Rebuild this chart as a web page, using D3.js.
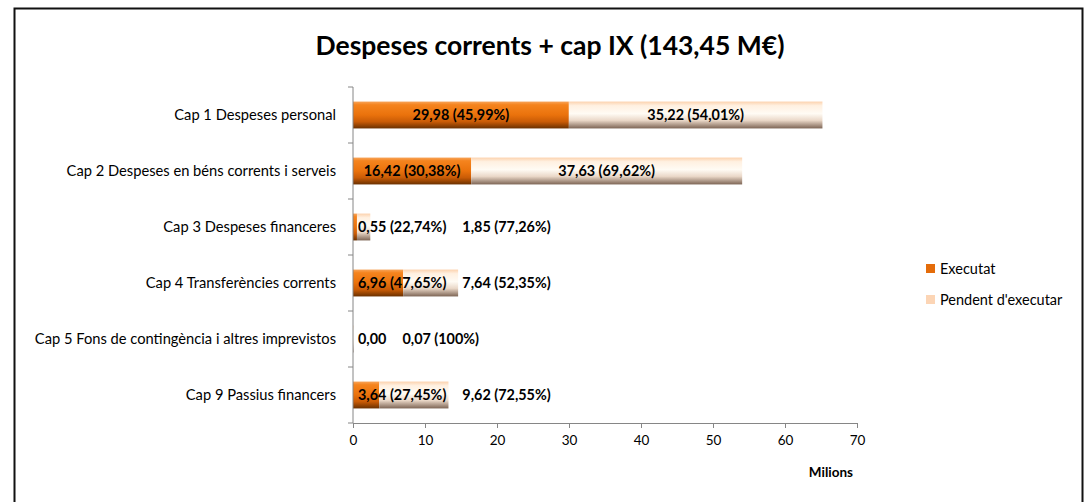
<!DOCTYPE html>
<html>
<head>
<meta charset="utf-8">
<script src="https://cdn.jsdelivr.net/npm/d3@7"></script>
<style>
  html, body { margin: 0; padding: 0; background: #fff; }
  svg { display: block; }
  text { font-family: Lato, "Open Sans", sans-serif; }
</style>
</head>
<body>
<svg id="chart" width="1086" height="502"></svg>
<script>
const categories = [
  "Cap 1 Despeses personal",
  "Cap 2 Despeses en béns corrents i serveis",
  "Cap 3 Despeses financeres",
  "Cap 4 Transferències corrents",
  "Cap 5 Fons de contingència i altres imprevistos",
  "Cap 9 Passius financers"
];
const executat = [29.98, 16.42, 0.55, 6.96, 0.00, 3.64];
const pendent = [35.22, 37.63, 1.85, 7.64, 0.07, 9.62];
const executatLabels = ["29,98 (45,99%)", "16,42 (30,38%)", "0,55 (22,74%)", "6,96 (47,65%)", "0,00", "3,64 (27,45%)"];
const pendentLabels = ["35,22 (54,01%)", "37,63 (69,62%)", "1,85 (77,26%)", "7,64 (52,35%)", "0,07 (100%)", "9,62 (72,55%)"];
const xTicks = [0, 10, 20, 30, 40, 50, 60, 70];
const seriesNames = ["Executat", "Pendent d'executar"];
const title = "Despeses corrents + cap IX (143,45 M€)";
const axisTitle = "Milions";

const svg = d3.select("#chart");

// outer frame
svg.append("rect")
  .attr("x", 14.5).attr("y", 8.5)
  .attr("width", 1068).attr("height", 520)
  .attr("fill", "#fff").attr("stroke", "#111").attr("stroke-width", 2);

// gradients
const defs = svg.append("defs");
const gE = defs.append("linearGradient").attr("id", "gE").attr("x1", 0).attr("y1", 0).attr("x2", 0).attr("y2", 1);
[[0, "#f7a45a"], [0.12, "#f5841e"], [0.5, "#ea720c"], [0.75, "#c95b06"], [1, "#6a3000"]]
  .forEach(([o, c]) => gE.append("stop").attr("offset", o).attr("stop-color", c));
const gP = defs.append("linearGradient").attr("id", "gP").attr("x1", 0).attr("y1", 0).attr("x2", 0).attr("y2", 1);
[[0, "#fcd2ae"], [0.15, "#fff0e0"], [0.45, "#fffbf4"], [0.7, "#ead8c8"], [1, "#7d6555"]]
  .forEach(([o, c]) => gP.append("stop").attr("offset", o).attr("stop-color", c));

const x = d3.scaleLinear().domain([0, 70]).range([353, 857]);
const y = d3.scaleBand().domain(categories).range([87, 423]).paddingInner(0.52).paddingOuter(0.26);

// title
svg.append("text")
  .attr("x", 550).attr("y", 55)
  .attr("text-anchor", "middle")
  .attr("font-size", 26.5).attr("font-weight", "bold")
  .attr("fill", "#000")
  .text(title);

// bars
const rows = categories.map((c, i) => ({ c, e: executat[i], p: pendent[i], le: executatLabels[i], lp: pendentLabels[i] }));

const g = svg.append("g");
g.selectAll("rect.e").data(rows).join("rect")
  .attr("class", "e")
  .attr("x", d => x(0)).attr("y", d => y(d.c))
  .attr("width", d => x(d.e) - x(0)).attr("height", y.bandwidth())
  .attr("fill", "url(#gE)");
g.selectAll("rect.p").data(rows).join("rect")
  .attr("class", "p")
  .attr("x", d => x(d.e)).attr("y", d => y(d.c))
  .attr("width", d => x(d.e + d.p) - x(d.e)).attr("height", y.bandwidth())
  .attr("fill", "url(#gP)");

// axes
const xAxis = d3.axisBottom(x).tickValues(xTicks).tickSize(5).tickFormat(d3.format("d"));
const ax = svg.append("g").attr("transform", "translate(0,423)").call(xAxis);
ax.select(".domain").attr("stroke", "#868686");
ax.selectAll(".tick line").attr("stroke", "#868686");
ax.selectAll(".tick text").attr("font-size", 13.5).attr("fill", "#000").attr("dy", "1.05em")
  .attr("font-family", "Lato, sans-serif");

// y axis line and ticks between bands
svg.append("line").attr("x1", 353).attr("x2", 353).attr("y1", 87).attr("y2", 423)
  .attr("stroke", "#868686");
const bounds = d3.range(categories.length + 1).map(i => y.range()[0] + i * y.step());
svg.selectAll("line.yt").data(bounds).join("line")
  .attr("class", "yt")
  .attr("x1", 348).attr("x2", 353)
  .attr("y1", d => d).attr("y2", d => d)
  .attr("stroke", "#868686");

// category labels
svg.selectAll("text.cat").data(categories).join("text")
  .attr("class", "cat")
  .attr("x", 336).attr("y", d => y(d) + y.bandwidth() / 2)
  .attr("dy", "0.35em")
  .attr("text-anchor", "end")
  .attr("font-size", 14.7).attr("fill", "#000")
  .text(d => d);

// data labels
rows.forEach(d => {
  const cy = y(d.c) + y.bandwidth() / 2;
  const t1 = svg.append("text").attr("y", cy).attr("dy", "0.35em")
    .attr("font-size", 14.4).attr("font-weight", "bold").attr("fill", "#000").text(d.le);
  const w1 = t1.node().getComputedTextLength();
  const left1 = Math.max(x(d.e / 2) - w1 / 2, x(0) + 5);
  t1.attr("x", left1);
  const t2 = svg.append("text").attr("y", cy).attr("dy", "0.35em")
    .attr("font-size", 14.4).attr("font-weight", "bold").attr("fill", "#000").text(d.lp);
  const w2 = t2.node().getComputedTextLength();
  const left2 = Math.max(x(d.e + d.p / 2) - w2 / 2, left1 + w1 + 16);
  t2.attr("x", left2);
});

// axis title
svg.append("text")
  .attr("x", 853).attr("y", 472).attr("dy", "0.35em")
  .attr("text-anchor", "end")
  .attr("font-size", 13.5).attr("font-weight", "bold").attr("fill", "#000")
  .text(axisTitle);

// legend
const legendColors = ["#e46c0a", "#fcd5b5"];
const lg = svg.selectAll("g.leg").data(seriesNames).join("g")
  .attr("class", "leg")
  .attr("transform", (d, i) => `translate(926,${269 + i * 31})`);
lg.append("rect").attr("x", 0).attr("y", -5).attr("width", 9).attr("height", 9)
  .attr("fill", (d, i) => legendColors[i]);
lg.append("text").attr("x", 14).attr("y", 0).attr("dy", "0.35em")
  .attr("font-size", 14.5).attr("fill", "#000")
  .text(d => d);
</script>
</body>
</html>
